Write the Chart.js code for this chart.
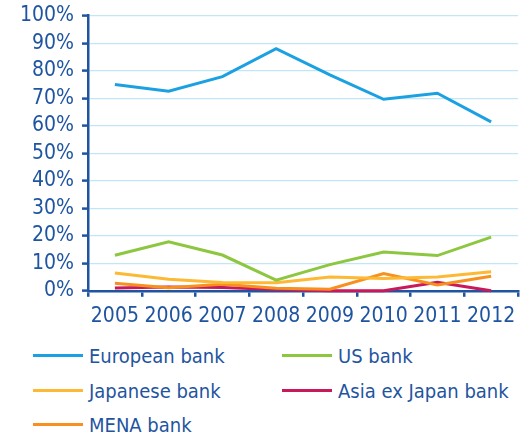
<!DOCTYPE html>
<html>
<head>
<meta charset="utf-8">
<script src="https://cdn.jsdelivr.net/npm/chart.js@4"></script>
<style>
  html, body { margin: 0; padding: 0; background: #fff; overflow: hidden; }
  #wrap { position: relative; width: 531px; height: 439px; overflow: hidden; }
  #chartBox { position: absolute; left: 0; top: -5px; width: 531px; height: 344px; }
  .leg { position: absolute; font-family: "DejaVu Sans Condensed", "DejaVu Sans", sans-serif; font-size: 20px; color: #1F55A0; white-space: nowrap; line-height: 22px; }
  .leg span.sw { position: absolute; left: 0; top: 9px; width: 50px; height: 3px; }
  .leg span.tx { position: absolute; left: 56px; top: 0; }
</style>
</head>
<body>
<div id="wrap">
  <div id="chartBox"><canvas id="c"></canvas></div>
  <div id="legend"></div>
</div>
<script>
const years = ["2005", "2006", "2007", "2008", "2009", "2010", "2011", "2012"];
const yTicks = [0, 10, 20, 30, 40, 50, 60, 70, 80, 90, 100];
const europeanBank = [75, 72.5, 77.8, 88, 78.5, 69.6, 71.8, 61.4];
const usBank = [12.9, 17.8, 13, 3.9, 9.5, 14.1, 12.8, 19.5];
const japaneseBank = [6.5, 4.2, 3, 2.9, 5, 4.5, 5, 6.9];
const asiaExJapanBank = [1, 1.4, 1.2, 0.5, 0, 0, 3.1, 0];
const menaBank = [2.7, 1.1, 2.4, 0.9, 0.6, 6.3, 2.1, 5.3];

const seriesNames = ["European bank", "US bank", "Japanese bank", "Asia ex Japan bank", "MENA bank"];
const seriesColors = ["#1BA1E2", "#8DC63F", "#FDB933", "#C8195A", "#F7901E"];
const seriesData = [europeanBank, usBank, japaneseBank, asiaExJapanBank, menaBank];

const textColor = "#1F55A0";
const axisColor = "#1F55A0";
const fontFam = '"DejaVu Sans Condensed", "DejaVu Sans", sans-serif';

const drawOrder = [0, 1, 2, 4, 3];
const datasets = drawOrder.map(i => ({
  label: seriesNames[i],
  data: seriesData[i],
  borderColor: seriesColors[i],
  backgroundColor: seriesColors[i],
  borderWidth: 3,
  pointRadius: 0,
  pointHoverRadius: 0,
  tension: 0,
  fill: false,
  clip: false
}));

new Chart(document.getElementById("c"), {
  type: "line",
  data: { labels: years, datasets },
  options: {
    responsive: true,
    maintainAspectRatio: false,
    animation: false,
    layout: { padding: { top: 0, right: 13, left: 12, bottom: 3 } },
    plugins: { legend: { display: false }, tooltip: { enabled: false } },
    scales: {
      x: {
        type: "category",
        offset: true,
        grid: { offset: true, drawOnChartArea: false, drawTicks: true, tickLength: 6, tickColor: axisColor, lineWidth: 2.5 },
        border: { color: axisColor, width: 2.5 },
        ticks: { color: textColor, font: { family: fontFam, size: 21 }, padding: 7, maxRotation: 0, autoSkip: false }
      },
      y: {
        min: 0, max: 100,
        afterBuildTicks: (s) => { s.ticks = yTicks.map(v => ({ value: v })); },
        grid: { color: "#C3E6F7", lineWidth: 1.2, tickLength: 6, tickColor: axisColor, tickWidth: 2.5 },
        border: { color: axisColor, width: 2.5 },
        ticks: { color: textColor, font: { family: fontFam, size: 21 }, padding: 8, autoSkip: false, callback: v => v + "%" }
      }
    }
  }
});

const legPos = [
  { x: 33, y: 345 }, { x: 282, y: 345 },
  { x: 33, y: 380 }, { x: 282, y: 380 },
  { x: 33, y: 414 }
];
const legend = document.getElementById("legend");
seriesNames.forEach((name, i) => {
  const d = document.createElement("div");
  d.className = "leg";
  d.style.left = legPos[i].x + "px";
  d.style.top = legPos[i].y + "px";
  d.innerHTML = '<span class="sw" style="background:' + seriesColors[i] + '"></span><span class="tx">' + name + '</span>';
  legend.appendChild(d);
});
</script>
</body>
</html>
